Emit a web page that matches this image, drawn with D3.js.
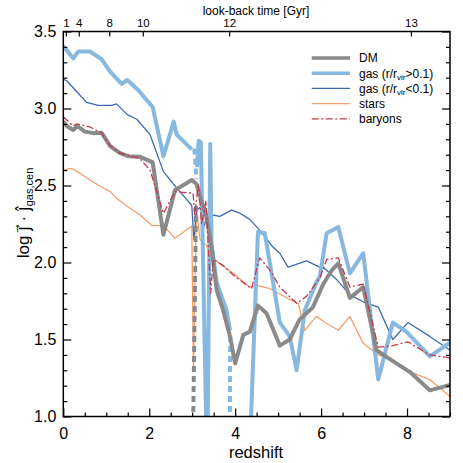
<!DOCTYPE html>
<html><head><meta charset="utf-8">
<script src="https://cdn.jsdelivr.net/npm/d3@7"></script>
<style>
body{margin:0;background:#fff}
svg{font-family:"Liberation Sans",Arial,Helvetica,sans-serif}
</style>
</head><body>
<svg id="c" width="463" height="463"></svg>
<script>
// ---------------- data ----------------
// null = break in the solid line (sign change, drawn dashed instead)
const dmZ = [0,0.08,0.23,0.33,0.5,0.7,0.89,1.09,1.32,1.51,1.78,2.08,2.33,2.6,2.99,3.1,3.18,3.33,3.45,3.57,3.72,3.88,4.0,4.19,4.34,4.53,4.73,5.04,5.27,5.5,5.81,6.05,6.25,6.4,6.67,6.98,7.29,7.67,8.06,8.53,9.0];
const dmV = [2.915,2.886,2.86,2.886,2.85,2.84,2.843,2.756,2.71,2.69,2.687,2.65,2.18,2.47,2.536,2.51,2.43,2.3,2.1,1.82,1.69,1.52,1.345,1.53,1.55,1.72,1.67,1.46,1.5,1.63,1.71,1.86,1.95,1.995,1.77,1.84,1.43,1.36,1.29,1.17,1.205];
const dmDashZ = [3.02,3.09];
const dmDashV = [0.9,2.38];

const gasOutZ = [0,0.23,0.35,0.62,0.89,1.09,1.36,1.49,1.74,2.08,2.33,2.57,2.64,2.99,3.04, 3.11,3.15,3.2,3.35,3.42,3.45,3.57,3.8,3.88,3.9, 4.33,4.53,4.69,5.04,5.27,5.43,5.62,5.89,5.97,6.13,6.4,6.67,6.98,7.33,7.67,7.99,8.53,9.0];
const gasOutV = [3.405,3.326,3.37,3.37,3.32,3.24,3.16,3.185,3.12,3.01,2.69,2.915,2.83,2.735,null, 2.62,2.79,2.78,0.6,2.77,2.12,1.87,1.69,1.56,null, 0.7,2.2,2.19,1.61,1.52,1.3,1.69,1.87,1.91,2.19,2.23,1.93,2.06,1.24,1.61,1.55,1.39,1.48];
const gasOutDash1Z = [3.05,3.1];
const gasOutDash1V = [2.74,2.54];
const gasOutDash2Z = [3.875,3.885];
const gasOutDash2V = [0.9,1.52];

const gasInZ = [0,0.08,0.31,0.54,0.81,1.13,1.24,1.49,1.71,2.02,2.33,2.56,2.87,2.99,3.04,3.1,3.2,3.26,3.35,3.45,3.64,3.92,4.11,4.34,4.57,4.88,5.04,5.23,5.66,5.97,6.09,6.36,6.67,6.98,7.33,7.67,8.02,8.53,9.0];
const gasInV = [3.19,3.18,3.11,3.04,3.02,3.02,3.03,2.96,2.93,2.83,2.59,2.51,2.41,2.37,2.15,2.34,2.36,2.22,2.31,2.31,2.3,2.34,2.32,2.28,2.21,2.1,2.06,1.97,2.01,1.97,1.96,1.89,1.79,1.745,1.71,1.5,1.61,1.52,1.43];

const starsZ = [0,0.16,0.2,0.39,0.62,0.89,1.09,1.24,1.51,1.78,2.06,2.33,2.6,2.99,3.03,3.1,3.18,3.33,3.45,3.64,3.95,4.34,4.53,4.81,5.27,5.47,5.62,5.89,6.09,6.4,6.67,6.98,7.33,7.67,7.99,8.53,9.0];
const starsV = [2.6,2.61,2.61,2.58,2.536,2.49,2.46,2.417,2.36,2.31,2.24,2.24,2.157,2.237,1.3,2.36,2.15,2.11,2.03,1.995,1.93,1.84,1.85,1.83,1.76,1.735,1.56,1.65,1.61,1.56,1.65,1.475,1.4,1.37,1.3,1.24,1.13];

const baryZ = [0,0.23,0.31,0.62,0.89,1.09,1.32,1.78,2.02,2.33,2.6,3.02,3.06,3.14,3.22,3.32,3.43,3.49,3.72,3.95,4.38,4.57,4.81,5.04,5.43,5.66,5.97,6.13,6.4,6.67,6.98,7.33,7.67,8.02,8.53,9.0];
const baryV = [2.946,2.886,2.9,2.88,2.84,2.76,2.71,2.675,2.6,2.32,2.46,2.45,2.3,2.51,2.25,2.4,1.8,2.02,1.98,1.92,1.83,2.03,1.95,1.84,1.735,1.78,1.9,2.02,2.03,1.84,1.86,1.45,1.46,1.485,1.4,1.38];

const xMajorTicks = [0,2,4,6,8];
const yMajorTicks = [1.0,1.5,2.0,2.5,3.0,3.5];
const lookbackLabels = [1,4,8,10,12,13];
const lookbackZ = [0.06,0.36,1.07,1.85,3.86,8.09];

const legendLabels = ["DM","gas (r/r_vir>0.1)","gas (r/r_vir<0.1)","stars","baryons"];

// ---------------- drawing ----------------
const svg = d3.select("#c");
const L = 63.3, R = 450, T = 31.5, B = 416.5;
const x = d3.scaleLinear().domain([0,9]).range([L,R]);
const y = d3.scaleLinear().domain([1,3.5]).range([B,T]);

const C = {dm:"#8a8a8a", gout:"#86b8e0", gin:"#3d6aae", stars:"#f4a06c", bary:"#c5384a"};

svg.append("defs").append("clipPath").attr("id","clip")
  .append("rect").attr("x",L).attr("y",T).attr("width",R-L).attr("height",B-T);

const plot = svg.append("g").attr("clip-path","url(#clip)");
function draw(zs, vs, color, width, dash){
  const pts = zs.map((z,i)=>[z, vs[i]]);
  const line = d3.line().defined(d=>d[1]!==null).x(d=>x(d[0])).y(d=>y(d[1]));
  plot.append("path").attr("d", line(pts)).attr("fill","none")
    .attr("stroke", color).attr("stroke-width", width)
    .attr("stroke-linejoin","round")
    .attr("stroke-dasharray", dash || null);
}
draw(starsZ, starsV, C.stars, 1.3);
draw(gasInZ, gasInV, C.gin, 1.3);
draw(gasOutZ, gasOutV, C.gout, 4);
draw(gasOutDash1Z, gasOutDash1V, C.gout, 4, "6,4");
draw(gasOutDash2Z, gasOutDash2V, C.gout, 4, "6,4");
draw(dmZ, dmV, C.dm, 4);
draw(dmDashZ, dmDashV, C.dm, 4, "6,4");
draw(baryZ, baryV, C.bary, 1.3, "7,2.5,2,2.5");

// axes
const fmt1 = d3.format(".1f");
function styleAxis(g){
  g.selectAll("path.domain").remove();
  g.selectAll("line").attr("stroke","#000").attr("stroke-width",1.2);
}
const minorX = d3.range(0,9.01,0.5).filter(v=>!xMajorTicks.includes(v));
const minorY = d3.range(1,3.51,0.1).map(v=>+v.toFixed(1)).filter(v=>!yMajorTicks.includes(v));

svg.append("g").attr("transform",`translate(0,${B})`)
  .call(d3.axisBottom(x).tickValues(xMajorTicks).tickFormat(d3.format("d")).tickSize(-8).tickPadding(11))
  .call(styleAxis).selectAll("text").attr("font-size",16).attr("font-family","Liberation Sans, Arial, sans-serif").attr("fill","#000");
svg.append("g").attr("transform",`translate(0,${B})`)
  .call(d3.axisBottom(x).tickValues(minorX).tickFormat("").tickSize(-4)).call(styleAxis);

svg.append("g").attr("transform",`translate(${L},0)`)
  .call(d3.axisLeft(y).tickValues(yMajorTicks).tickFormat(fmt1).tickSize(-8).tickPadding(7))
  .call(styleAxis).selectAll("text").attr("font-size",16).attr("font-family","Liberation Sans, Arial, sans-serif").attr("fill","#000");
svg.append("g").attr("transform",`translate(${L},0)`)
  .call(d3.axisLeft(y).tickValues(minorY).tickFormat("").tickSize(-4)).call(styleAxis);

svg.append("g").attr("transform",`translate(${R},0)`)
  .call(d3.axisRight(y).tickValues(yMajorTicks).tickFormat("").tickSize(-8)).call(styleAxis);
svg.append("g").attr("transform",`translate(${R},0)`)
  .call(d3.axisRight(y).tickValues(minorY).tickFormat("").tickSize(-4)).call(styleAxis);

svg.append("g").attr("transform",`translate(0,${T})`)
  .call(d3.axisTop(x).tickValues(lookbackZ).tickFormat((d,i)=>lookbackLabels[i]).tickSize(-5).tickPadding(5))
  .call(styleAxis).selectAll("text").attr("font-size",11.5).attr("font-family","Liberation Sans, Arial, sans-serif").attr("fill","#000");

// frame
svg.append("rect").attr("x",L).attr("y",T).attr("width",R-L).attr("height",B-T)
  .attr("fill","none").attr("stroke","#000").attr("stroke-width",1.5);

// titles
svg.append("text").attr("x",256).attr("y",14.5).attr("text-anchor","middle")
  .attr("font-size",12).text("look-back time [Gyr]");
svg.append("text").attr("x",256).attr("y",458).attr("text-anchor","middle")
  .attr("font-size",16.5).text("redshift");

const yl = svg.append("text").attr("transform","translate(29,213) rotate(-90)")
  .attr("text-anchor","middle").attr("font-size",17);
yl.append("tspan").text("log ");
yl.append("tspan").attr("font-family","DejaVu Sans").text("j\u20D7");
yl.append("tspan").text(" \u00B7 ");
yl.append("tspan").attr("font-family","DejaVu Sans").text("\u0135");
yl.append("tspan").attr("font-size",11).attr("dy",4).text("gas,cen");

// legend
const legStyles = [
  {c:C.dm,w:3.5,d:null},{c:C.gout,w:3.5,d:null},{c:C.gin,w:1.3,d:null},
  {c:C.stars,w:1.3,d:null},{c:C.bary,w:1.3,d:"7,2.5,2,2.5"}];
const legY0 = 58, legDy = 15.2;
legendLabels.forEach((lab,i)=>{
  const yy = legY0 + i*legDy;
  svg.append("line").attr("x1",311.7).attr("x2",350).attr("y1",yy).attr("y2",yy)
    .attr("stroke",legStyles[i].c).attr("stroke-width",legStyles[i].w)
    .attr("stroke-dasharray",legStyles[i].d);
  const t = svg.append("text").attr("x",359).attr("y",yy+4.3).attr("font-size",12);
  const m = lab.match(/^(.*)_vir(.*)$/);
  if(m){
    t.append("tspan").text(m[1]);
    t.append("tspan").attr("font-size",8).attr("dy",2.5).text("vir");
    t.append("tspan").attr("dy",-2.5).text(m[2]);
  } else t.text(lab);
});
</script>
</body></html>
